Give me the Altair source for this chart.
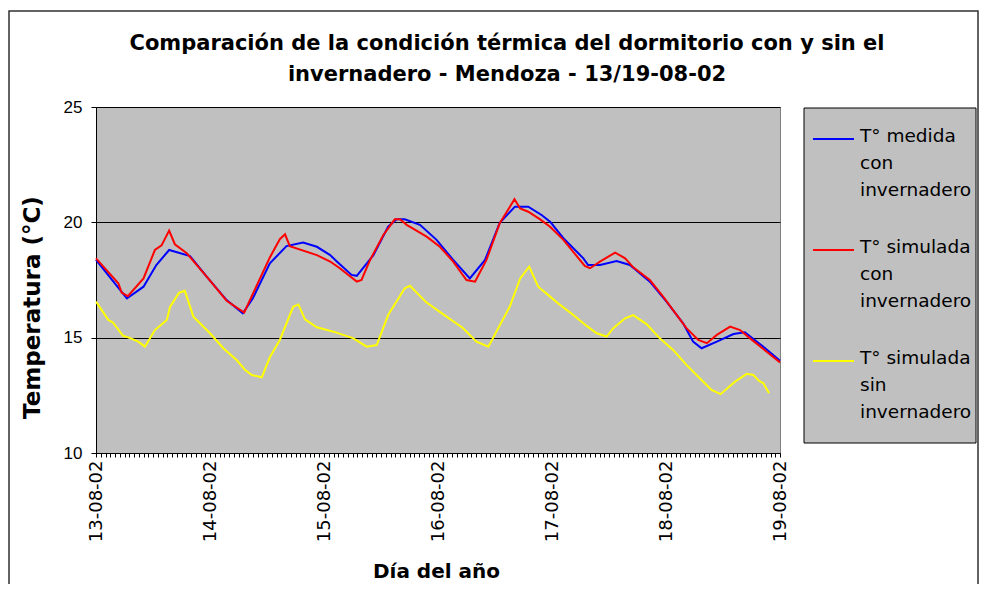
import json
import altair as alt
import pandas as pd

# ---------------- data (hours from 13-08-02 00:00, temperature °C) ----------------
dates = ["13-08-02", "14-08-02", "15-08-02", "16-08-02", "17-08-02", "18-08-02", "19-08-02"]

series_names = ["T° medida con invernadero", "T° simulada con invernadero", "T° simulada sin invernadero"]
series_colors = ["#0000FF", "#FF0000", "#FFFF00"]

blue_h = [0, 6.5, 10, 12.7, 15.4, 19.8, 23.3, 27.5, 30.9, 33, 36.6, 40.1, 43.6, 46.5, 49.3, 50.7,
          53.8, 54.9, 58.4, 61.5, 63.3, 65, 68.2, 71.7, 75.2, 78.7, 81.9, 85, 88.2, 91, 93.8, 95.6,
          98.4, 102.6, 103.6, 106.1, 109.6, 112.4, 116.6, 120.1, 123.6, 125.7, 127.5, 130.7, 134.2,
          136.6, 140.5, 144]
blue_t = [18.37, 16.7, 17.21, 18.15, 18.8, 18.54, 17.65, 16.63, 16.06, 16.7, 18.22, 18.97, 19.12,
          18.94, 18.58, 18.3, 17.72, 17.68, 18.58, 19.81, 20.13, 20.13, 19.89, 19.24, 18.37, 17.57,
          18.37, 19.98, 20.68, 20.68, 20.32, 20.03, 19.31, 18.44, 18.15, 18.15, 18.32, 18.15, 17.43,
          16.56, 15.62, 14.83, 14.54, 14.83, 15.16, 15.23, 14.61, 14.0]

red_h = [0, 4.7, 5.4, 6.7, 10, 12.4, 13.8, 15.4, 16.6, 19.1, 23.3, 27.5, 31.2, 36.6, 38.7, 39.8,
         40.8, 46.5, 49.3, 51.4, 54.9, 55.9, 57.7, 60.5, 62.9, 64, 65.4, 67.2, 69.6, 72.4, 75.2, 78,
         79.8, 82.2, 85, 88.1, 89.3, 91, 93.5, 95.6, 98.4, 102.9, 104, 106.1, 109.3, 111.4, 113.1,
         116.6, 119.4, 124.3, 126.8, 128.6, 130.7, 133.5, 135.6, 137.7, 141.2, 144]
red_t = [18.44, 17.36, 16.95, 16.8, 17.57, 18.8, 19.0, 19.64, 19.05, 18.66, 17.65, 16.6, 16.09,
         18.48, 19.27, 19.48, 18.97, 18.58, 18.3, 18.0, 17.43, 17.5, 18.37, 19.45, 20.13, 20.13,
         19.89, 19.67, 19.38, 18.94, 18.3, 17.5, 17.43, 18.37, 19.96, 21.0, 20.6, 20.46, 20.13, 19.81,
         19.24, 18.11, 18.01, 18.3, 18.69, 18.44, 18.05, 17.5, 16.78, 15.41, 14.9, 14.76, 15.12, 15.48,
         15.33, 14.97, 14.39, 13.93]

yellow_h = [0, 2.6, 3.6, 5.7, 7.2, 8.9, 10.3, 12.4, 14.9, 15.6, 17.5, 18.7, 20.5, 24, 26.8, 29.6,
            31.4, 32.8, 34.9, 36.6, 38.7, 41.5, 42.6, 44, 46.5, 50, 54.2, 57, 59.1, 61.5, 65, 66.1,
            69.6, 73.8, 77.3, 80.1, 82.6, 87.1, 89.3, 91.2, 93.1, 95.6, 97.7, 100.5, 103.3, 105.4,
            107.5, 108.9, 111.4, 113.1, 115.9, 118.7, 121.5, 124.3, 127.1, 129.6, 131.5, 134.5, 137,
            138.4, 139.5, 140.5, 141.7]
yellow_t = [16.56, 15.77, 15.65, 15.08, 14.98, 14.83, 14.61, 15.33, 15.77, 16.34, 16.95, 17.03,
            15.91, 15.19, 14.54, 14.03, 13.6, 13.38, 13.28, 14.15, 14.9, 16.34, 16.44, 15.79, 15.45,
            15.26, 14.97, 14.61, 14.68, 15.98, 17.14, 17.25, 16.52, 15.91, 15.41, 14.83, 14.61, 16.34,
            17.57, 18.08, 17.21, 16.78, 16.42, 15.98, 15.51, 15.19, 15.05, 15.41, 15.84, 15.98, 15.59,
            14.97, 14.47, 13.82, 13.24, 12.73, 12.55, 13.09, 13.43, 13.38, 13.14, 13.02, 12.59]

legend_lines = [["T° medida", "con", "invernadero"],
                ["T° simulada", "con", "invernadero"],
                ["T° simulada", "sin", "invernadero"]]

title_lines = ["Comparación de la condición térmica del dormitorio con y sin el",
               "invernadero - Mendoza - 13/19-08-02"]

# ---------------- build ----------------
FONT = "Liberation Sans"
WIDE = "DejaVu Sans"
W, H = 684, 346

frames = []
for name, hs, ts in zip(series_names, [blue_h, red_h, yellow_h], [blue_t, red_t, yellow_t]):
    frames.append(pd.DataFrame({"serie": name, "hora": hs, "temp": ts}))
df = pd.concat(frames, ignore_index=True)

label_expr = "datum.value % 24 === 0 ? " + json.dumps(dates) + "[datum.value / 24] : ''"

x_axis = alt.Axis(values=list(range(0, 145)), labelExpr=label_expr, labelAngle=270,
                  labelAlign="right", labelBaseline="middle", labelFont=WIDE, labelFontSize=18,
                  labelColor="black", labelPadding=3, labelOverlap=False, labelFlush=False,
                  tickSize=4, tickColor="black", domainColor="black", domainWidth=1, grid=False,
                  title="Día del año", titleFont=WIDE, titleFontSize=20, titleFontWeight="bold",
                  titleColor="black", titleX=340, titleY=118, titleBaseline="middle",
                  titleAlign="center")
y_axis = alt.Axis(values=[10, 15, 20, 25], labelFont=FONT, labelFontSize=17, labelColor="black",
                  labelPadding=9, tickSize=5, tickColor="black", domainColor="black",
                  grid=True, gridColor="black", gridOpacity=1, gridWidth=1,
                  title="Temperatura (°C)", titleFont=WIDE, titleFontSize=23,
                  titleFontWeight="bold", titleColor="black", titleAngle=270, titleX=-64,
                  titleY=200, titleAlign="center", titleBaseline="middle")

xs = alt.Scale(domain=[0, 144], nice=False, zero=False)
ys = alt.Scale(domain=[10, 25], nice=False, zero=False)

layers = []
for name, col in zip(series_names, series_colors):
    layers.append(
        alt.Chart(df).transform_filter(alt.datum.serie == name)
        .mark_line(color=col, strokeWidth=2)
        .encode(x=alt.X("hora:Q", scale=xs, axis=x_axis),
                y=alt.Y("temp:Q", scale=ys, axis=y_axis))
    )

one = pd.DataFrame({"k": [0]})

# outer chart border
border = alt.Chart(one).mark_rect(fill="transparent", stroke="#303030", strokeWidth=1.5).encode(
    x=alt.value(-87), x2=alt.value(882), y=alt.value(-96), y2=alt.value(520))

# title
titles = []
for txt, cy in zip(title_lines, [-63, -32]):
    titles.append(alt.Chart(one).mark_text(font=WIDE, fontSize=21, fontWeight="bold",
                                           color="black", align="center", baseline="middle")
                  .encode(x=alt.value(411), y=alt.value(cy), text=alt.value(txt)))

# legend
legend_box = alt.Chart(one).mark_rect(fill="#C0C0C0", stroke="black", strokeWidth=1).encode(
    x=alt.value(708), x2=alt.value(880), y=alt.value(1), y2=alt.value(336))
legend_layers = [legend_box]
for i, (col, lines) in enumerate(zip(series_colors, legend_lines)):
    sy = 32 + i * 111
    legend_layers.append(alt.Chart(one).mark_rule(color=col, strokeWidth=2).encode(
        x=alt.value(717), x2=alt.value(758), y=alt.value(sy)))
    for j, t in enumerate(lines):
        legend_layers.append(alt.Chart(one).mark_text(font=WIDE, fontSize=18.5, color="black",
                                                      align="left", baseline="middle")
                             .encode(x=alt.value(764), y=alt.value(sy - 3 + j * 27),
                                     text=alt.value(t)))

chart = alt.layer(border, *layers, *titles, *legend_layers).properties(
    width=W, height=H,
    padding={"left": 88, "top": 99, "right": 200, "bottom": 131},
    autosize=alt.AutoSizeParams(type="none"),
    background="white",
).configure_view(fill="#C0C0C0", stroke="#808080", strokeWidth=1)

chart.save("out.html", embed_options={"renderer": "svg", "actions": False})
